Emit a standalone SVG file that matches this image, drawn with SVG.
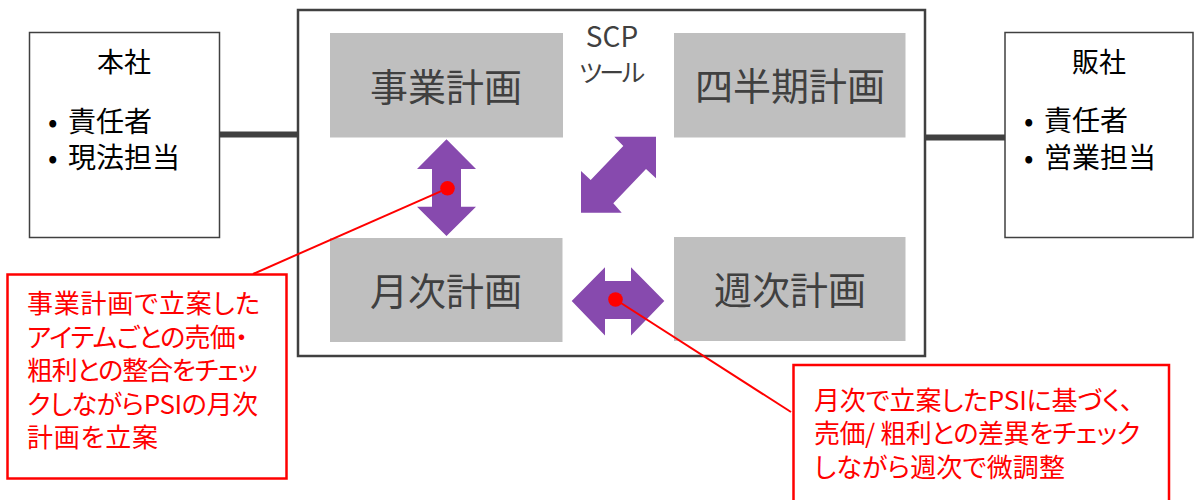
<svg xmlns="http://www.w3.org/2000/svg" width="1195" height="500" viewBox="0 0 1195 500">
<style>
text{font-family:"Noto Sans CJK JP","Noto Sans",sans-serif}
.box{fill:#fff;stroke:#404040;stroke-width:1.5}
.main{fill:#fff;stroke:#404040;stroke-width:2.5}
.gray{fill:#bfbfbf}
.gt{font-size:38px;fill:#404040;text-anchor:middle}
.bt{font-size:28px;fill:#000}
.ht{font-size:27px;fill:#000;text-anchor:middle}
.arrow{fill:#874aae}
.conn{stroke:#404040;stroke-width:6}
.call{fill:#fff;stroke:#ff0000;stroke-width:2.5}
.rt{font-size:26px;fill:#ff0000;font-feature-settings:"palt"}
.lead{stroke:#ff0000;stroke-width:2}
.dot{fill:#ff0000}
</style>
<g id="connectors">
<line class="conn" x1="219" y1="134.5" x2="298" y2="134.5"/>
<line class="conn" x1="925" y1="137.5" x2="1005" y2="137.5"/>
</g>
<g id="honsha">
<rect class="box" x="29.5" y="32.5" width="190" height="205"/>
<text class="ht" x="124" y="71.5">本社</text>
<text class="bt" y="131.5"><tspan x="48">•</tspan><tspan x="68">責任者</tspan></text>
<text class="bt" y="168"><tspan x="48">•</tspan><tspan x="68">現法担当</tspan></text>
</g>
<g id="hansha">
<rect class="box" x="1005" y="32.5" width="188" height="205"/>
<text class="ht" x="1099" y="72">販社</text>
<text class="bt" y="131"><tspan x="1024">•</tspan><tspan x="1044">責任者</tspan></text>
<text class="bt" y="168"><tspan x="1024">•</tspan><tspan x="1044">営業担当</tspan></text>
</g>
<g id="scp-tool">
<rect class="main" x="298" y="10" width="627" height="346"/>
<text x="612" y="46.5" text-anchor="middle" font-size="28" fill="#404040">SCP</text>
<text x="612" y="81.5" text-anchor="middle" font-size="25" fill="#404040" style="font-feature-settings:'palt'" textLength="66">ツール</text>
</g>
<g id="jigyo">
<rect class="gray" x="330" y="33" width="233" height="104.5"/>
<text class="gt" x="446" y="100.5">事業計画</text>
</g>
<g id="shihanki">
<rect class="gray" x="674" y="33" width="231.5" height="104.5"/>
<text class="gt" x="790" y="100">四半期計画</text>
</g>
<g id="getsuji">
<rect class="gray" x="330" y="238" width="232.5" height="104"/>
<text class="gt" x="446" y="305">月次計画</text>
</g>
<g id="shuji">
<rect class="gray" x="674" y="237" width="231.5" height="104"/>
<text class="gt" x="790" y="303.5">週次計画</text>
</g>
<g id="arrows">
<polygon class="arrow" points="446.5,139.3 476,169 461,169 461,206.7 476,206.7 446.5,236 417,206.7 432,206.7 432,169 417,169"/>
<polygon class="arrow" points="614.3,136.7 656,136.7 656,178.3 646,169 613.3,203.3 621.7,212.7 581,212.7 581,171 590.7,180 623.3,146"/>
<polygon class="arrow" points="571.7,301 605,267.3 605,281 631,281 631,267.3 664.3,301 631,335.5 631,319 605,319 605,335.5"/>
</g>
<g id="callout1">
<line class="lead" x1="447.5" y1="188.3" x2="253" y2="274"/>
<circle class="dot" cx="447.5" cy="188.3" r="7.3"/>
<rect class="call" x="7.5" y="274.5" width="279" height="204"/>
<text class="rt" x="27" y="313" textLength="233">事業計画で立案した</text>
<text class="rt" x="27" y="346.5" textLength="221">アイテムごとの売価・</text>
<text class="rt" x="27" y="380" textLength="231">粗利との整合をチェッ</text>
<text class="rt" x="27" y="413.5" textLength="231">クしながらPSIの月次</text>
<text class="rt" x="27" y="447" textLength="131">計画を立案</text>
</g>
<g id="callout2">
<line class="lead" x1="615.5" y1="299.5" x2="791" y2="412"/>
<circle class="dot" cx="615.5" cy="299.5" r="7.3"/>
<rect class="call" x="793.5" y="365" width="375.5" height="160"/>
<text class="rt" x="814" y="409.5" textLength="319">月次で立案したPSIに基づく、</text>
<text class="rt" x="814" y="443" textLength="326">売価/ 粗利との差異をチェック</text>
<text class="rt" x="814" y="476.5" textLength="251">しながら週次で微調整</text>
</g>
</svg>
